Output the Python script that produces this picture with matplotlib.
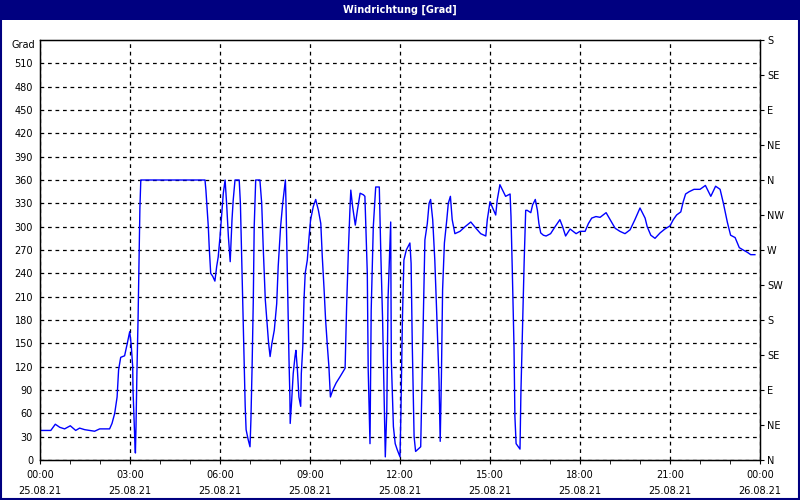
import numpy as np
import matplotlib
matplotlib.use('Agg')
import matplotlib.pyplot as plt
from matplotlib.patches import Rectangle

# Messwerte: Stunden seit 25.08.21 00:00 und Windrichtung in Grad
hours = [
    0.00, 0.36, 0.51, 0.66, 0.82, 1.01, 1.19, 1.32, 1.49, 1.66, 1.82, 1.99,
    2.32, 2.40, 2.49, 2.57, 2.62, 2.69, 2.82, 2.91, 2.99, 3.04, 3.09, 3.10,
    3.13, 3.16, 3.18, 3.20, 3.23, 3.27, 3.30, 3.33, 3.36, 5.50, 5.53, 5.61,
    5.64, 5.69, 5.76, 5.83, 5.89, 5.94, 6.00, 6.06, 6.11, 6.17, 6.22, 6.28,
    6.34, 6.40, 6.44, 6.50, 6.64, 6.68, 6.72, 6.76, 6.80, 6.84, 6.87, 6.94,
    7.00, 7.03, 7.07, 7.11, 7.14, 7.19, 7.33, 7.39, 7.44, 7.51, 7.58, 7.62,
    7.67, 7.73, 7.81, 7.89, 7.94, 8.02, 8.09, 8.18, 8.20, 8.26, 8.30, 8.33,
    8.34, 8.39, 8.44, 8.50, 8.53, 8.58, 8.63, 8.69, 8.71, 8.76, 8.80, 8.84,
    8.91, 8.97, 9.02, 9.11, 9.19, 9.28, 9.36, 9.41, 9.47, 9.52, 9.58, 9.63,
    9.68, 9.76, 9.87, 10.00, 10.17, 10.22, 10.28, 10.33, 10.36, 10.42, 10.51,
    10.58, 10.67, 10.78, 10.83, 10.91, 10.94, 11.00, 11.04, 11.11, 11.19,
    11.31, 11.36, 11.42, 11.47, 11.51, 11.56, 11.60, 11.66, 11.69, 11.71,
    11.78, 11.84, 11.91, 11.98, 12.00, 12.03, 12.08, 12.13, 12.21, 12.33,
    12.37, 12.41, 12.47, 12.52, 12.69, 12.73, 12.78, 12.83, 12.91, 12.97,
    13.02, 13.09, 13.16, 13.22, 13.30, 13.34, 13.38, 13.42, 13.48, 13.56,
    13.61, 13.68, 13.74, 13.83, 14.00, 14.17, 14.36, 14.53, 14.69, 14.86,
    14.91, 15.00, 15.09, 15.19, 15.24, 15.33, 15.42, 15.52, 15.67, 15.70,
    15.74, 15.80, 15.83, 15.87, 16.00, 16.03, 16.09, 16.14, 16.19, 16.24,
    16.36, 16.42, 16.51, 16.58, 16.63, 16.69, 16.78, 16.87, 17.02, 17.17,
    17.33, 17.42, 17.52, 17.67, 17.87, 18.00, 18.17, 18.28, 18.39, 18.53,
    18.67, 18.87, 19.02, 19.17, 19.33, 19.50, 19.67, 19.83, 20.00, 20.17,
    20.24, 20.36, 20.50, 20.67, 20.83, 21.00, 21.11, 21.22, 21.36, 21.44,
    21.52, 21.64, 21.80, 22.00, 22.18, 22.36, 22.52, 22.67, 22.78, 22.91,
    23.02, 23.17, 23.31, 23.44, 23.58, 23.69, 23.83,
]
grad = [
    38, 38, 46, 42, 40, 44, 38, 41, 39, 38, 37, 40,
    40, 47, 60, 81, 116, 132, 134, 150, 165, 148, 120, 90,
    56, 26, 9, 43, 111, 184, 257, 324, 360, 360, 347, 300,
    274, 240, 236, 230, 249, 261, 287, 317, 343, 360, 330, 287,
    255, 309, 334, 360, 360, 330, 266, 201, 133, 69, 39, 26,
    17, 51, 120, 206, 300, 360, 360, 330, 274, 206, 171, 150,
    133, 150, 167, 201, 249, 300, 330, 360, 330, 206, 129, 81,
    47, 77, 111, 133, 141, 116, 81, 69, 111, 146, 206, 240,
    257, 287, 309, 326, 335, 321, 304, 261, 219, 180, 146, 120,
    81, 90, 99, 107, 118, 197, 270, 321, 347, 326, 302,
    321, 343, 341, 339, 240, 116, 21, 193, 300, 351,
    351, 266, 180, 86, 4, 64, 206, 274, 306, 129,
    43, 21, 13, 6, 4, 60, 180, 257, 270, 279,
    253, 146, 30, 11, 17, 94, 197, 283, 304, 330,
    335, 309, 257, 193, 103, 24, 107, 219, 279, 309,
    330, 339, 309, 291, 294, 300, 306, 298, 291, 288,
    309, 332, 324, 315, 334, 354, 347, 339, 342, 313,
    249, 146, 56, 21, 14, 86, 180, 257, 321, 321,
    318, 328, 335, 321, 304, 292, 289, 288, 291, 300,
    309, 300, 288, 297, 291, 294, 294, 304, 311, 313,
    312, 318, 308, 298, 294, 291, 296, 309, 324, 311,
    300, 289, 285, 292, 297, 301, 309, 315, 319, 332,
    342, 345, 348, 348, 353, 339, 352, 348, 330, 306,
    289, 286, 273, 270, 267, 264, 264,
]

x_ticks = [0, 3, 6, 9, 12, 15, 18, 21, 24]
x_labels = ['00:00\n25.08.21', '03:00\n25.08.21', '06:00\n25.08.21',
            '09:00\n25.08.21', '12:00\n25.08.21', '15:00\n25.08.21',
            '18:00\n25.08.21', '21:00\n25.08.21', '00:00\n26.08.21']
y_ticks = list(range(0, 540, 30))
dir_ticks = list(range(0, 541, 45))
dir_labels = ['N', 'NE', 'E', 'SE', 'S', 'SW', 'W', 'NW',
              'N', 'NE', 'E', 'SE', 'S']

navy = '#000080'
plt.rcParams['font.family'] = ['DejaVu Sans']
plt.rcParams['font.size'] = 7

fig = plt.figure(figsize=(8, 5), dpi=100, facecolor='white')

# Titelleiste und Rahmen
fig.patches.append(Rectangle((0, 0.96), 1, 0.04, transform=fig.transFigure,
                             facecolor=navy, edgecolor='none', zorder=0))
fig.patches.append(Rectangle((0.001, 0.002), 0.998, 0.996, transform=fig.transFigure,
                             facecolor='none', edgecolor=navy, linewidth=1.5, zorder=5))
fig.text(0.5, 0.981, 'Windrichtung [Grad]', color='white', fontweight='bold',
         ha='center', va='center', fontsize=7)

ax = fig.add_axes([0.05, 0.08, 0.90, 0.84])
ax.plot(hours, grad, color='#0000ff', linewidth=1.0)

ax.set_xlim(0, 24)
ax.set_ylim(0, 540)
ax.set_xticks(x_ticks)
ax.set_xticklabels(x_labels, linespacing=1.8)
ax.set_xticks(np.arange(0, 25, 1), minor=True)
ax.set_yticks(y_ticks)
ax.tick_params(axis='x', which='both', direction='out', length=3, pad=4, color='black')
ax.tick_params(axis='y', length=0, pad=5)
ax.text(-0.007, 1.0, 'Grad', transform=ax.transAxes, ha='right', va='top')

ax.grid(True, which='major', color='black', linestyle=(0, (3, 3)), linewidth=0.9)
for s in ax.spines.values():
    s.set_color('black')
    s.set_linewidth(1.0)

ax2 = ax.twinx()
ax2.set_ylim(0, 540)
ax2.set_yticks(dir_ticks)
ax2.set_yticklabels(dir_labels)
ax2.tick_params(axis='y', direction='out', length=3, pad=2)

fig.savefig('out.png', dpi=100, facecolor='white')
